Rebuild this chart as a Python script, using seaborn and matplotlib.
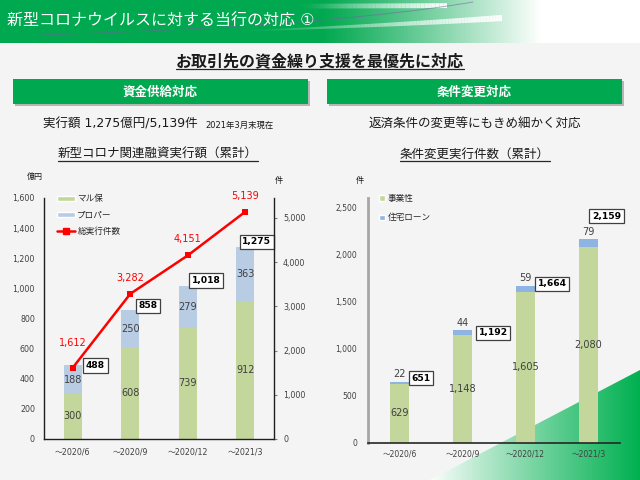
import matplotlib
matplotlib.use("Agg")
import matplotlib.pyplot as plt
from matplotlib.collections import LineCollection
from matplotlib.colors import to_rgb
from matplotlib.lines import Line2D
from matplotlib.patches import Patch, Polygon, Rectangle
from matplotlib.ticker import MultipleLocator, StrMethodFormatter
import numpy as np
import pandas as pd
import seaborn as sns

periods = ["～2020/6", "～2020/9", "～2020/12", "～2021/3"]

# 新型コロナ関連融資実行額（億円）と総実行件数
marukyo = [300, 608, 739, 912]
proper = [188, 250, 279, 363]
loan_total = [488, 858, 1018, 1275]
loan_count = [1612, 3282, 4151, 5139]

# 条件変更実行件数
jigyo = [629, 1148, 1605, 2080]
jutaku = [22, 44, 59, 79]
change_total = [651, 1192, 1664, 2159]

GREEN = "#c3d69b"
BLUE_L = "#b8cce4"
BLUE_R = "#8db4e2"
RED = "#ff0000"
BRAND = "#00a84f"
BG = "#f4f4f4"
TXT = "#404040"
DARK = "#1a1a1a"

BOX = dict(boxstyle="square,pad=0.3", fc="white", ec="#404040", lw=0.9)


def underline(fig, bg, t, gap=0.0):
    fig.canvas.draw()
    bb = t.get_window_extent()
    y = 480 - bb.y0 + gap
    bg.plot([bb.x0, bb.x1], [y, y], color="#262626", lw=0.9, zorder=3)


def bezier(p0, p1, p2, n=80):
    s = np.linspace(0, 1, n)[:, None]
    pts = (1 - s) ** 2 * np.array(p0) + 2 * (1 - s) * s * np.array(p1) + s ** 2 * np.array(p2)
    return pts


def fading_stroke(bg, pts, lw0, lw1, a0, a1, color="white"):
    segs = np.stack([pts[:-1], pts[1:]], axis=1)
    n = len(segs)
    alphas = np.linspace(a0, a1, n)
    rgb = np.array(to_rgb(color))
    cols = np.column_stack([np.tile(rgb, (n, 1)), alphas])
    lc = LineCollection(segs, colors=cols, linewidths=np.linspace(lw0, lw1, n),
                        capstyle="butt", zorder=1)
    bg.add_collection(lc)


def draw_background(fig):
    bg = fig.add_axes([0, 0, 1, 1], zorder=0)
    bg.axis("off")

    # header band, green fading to white
    xs = np.arange(640)
    t = np.clip((xs - 320) / 220, 0, 1) ** 1.1
    g = np.array(to_rgb("#00a84f"))
    row = g[None, :] * (1 - t[:, None]) + np.ones(3)[None, :] * t[:, None]
    img = np.repeat(row[None, :, :], 43, axis=0)
    bg.imshow(img, extent=(0, 640, 43, 0), aspect="auto", zorder=0)
    fading_stroke(bg, bezier((240, 31), (380, 26), (502, 18)), 0.5, 4.5, 0.0, 0.95)
    fading_stroke(bg, np.array([[300, 6.5], [447, 5.5]]).repeat(1, axis=0), 3.5, 3.5, 0.0, 0.9)
    fading_stroke(bg, np.linspace([300, 6.2], [447, 5.6], 40), 3.5, 3.5, 0.0, 0.95)
    x = bezier((40, 35), (330, 26), (473, 2))
    bg.plot(x[:, 0], x[:, 1], color="#7b5ea7", lw=0.7, alpha=0.55, zorder=1)

    # green corner triangle
    tri = Polygon([(430, 480), (640, 370), (640, 480)], closed=True,
                  fc="none", ec="none")
    bg.add_patch(tri)
    tt = np.linspace(0, 1, 256) ** 0.9
    c0 = np.array(to_rgb("#ffffff"))
    c1 = np.array(to_rgb("#00b050"))
    grad = c0[None, :] * (1 - tt[:, None]) + c1[None, :] * tt[:, None]
    im = bg.imshow(grad[None, :, :], extent=(430, 640, 480, 370),
                   aspect="auto", zorder=0.5)
    im.set_clip_path(tri)

    # section boxes
    for x0, label in [(13, "資金供給対応"), (327, "条件変更対応")]:
        bg.add_patch(Rectangle((x0 + 2, 81), 295, 25, fc="#b5b5b5", ec="none", zorder=1))
        bg.add_patch(Rectangle((x0, 79), 295, 25, fc=BRAND, ec="none", zorder=2))
        bg.text(x0 + 147, 92, label, color="white", fontsize=9, fontweight="bold",
                ha="center", va="center", zorder=3)

    bg.set_xlim(0, 640)
    bg.set_ylim(480, 0)
    return bg


def main():
    sns.set_theme(style="white")
    plt.rcParams["font.family"] = ["DejaVu Sans", "Noto Sans CJK JP"]

    fig = plt.figure(figsize=(6.4, 4.8), dpi=100, facecolor=BG)
    bg = draw_background(fig)

    bg.text(7, 21, "新型コロナウイルスに対する当行の対応 ①", color="white",
            fontsize=11.5, ha="left", va="center", zorder=3)
    sub = bg.text(320, 61, "お取引先の資金繰り支援を最優先に対応", color=DARK,
                  fontsize=11.5, fontweight="bold", ha="center", va="center")
    amount = bg.text(43, 124, "実行額 1,275億円/5,139件", color=DARK,
                     fontsize=9, ha="left", va="center")
    bg.text(475, 124, "返済条件の変更等にもきめ細かく対応", color=DARK,
            fontsize=9, ha="center", va="center")
    t1 = bg.text(158, 154, "新型コロナ関連融資実行額（累計）", color=DARK,
                 fontsize=9, ha="center", va="center")
    t2 = bg.text(475, 154, "条件変更実行件数（累計）", color=DARK,
                 fontsize=9, ha="center", va="center")
    bg.text(35, 176, "億円", fontsize=5.8, color=DARK, ha="center", va="center")
    bg.text(279, 180, "件", fontsize=5.8, color=DARK, ha="center", va="center")
    bg.text(360, 181, "件", fontsize=5.8, color=DARK, ha="center", va="center")

    # ---- left: loan amounts ----
    df_loan = pd.DataFrame({"period": periods, "marukyo": marukyo,
                            "proper": proper, "total": loan_total,
                            "count": loan_count})
    ax1 = fig.add_axes([44 / 640, 41 / 480, 230 / 640, 241 / 480], zorder=2)
    ax1.patch.set_visible(False)
    sns.barplot(data=df_loan, x="period", y="total", color=BLUE_L, saturation=1,
                width=0.31, errorbar=None, linewidth=0, ax=ax1)
    sns.barplot(data=df_loan, x="period", y="marukyo", color=GREEN, saturation=1,
                width=0.31, errorbar=None, linewidth=0, ax=ax1)
    for i, (g, b) in enumerate(zip(marukyo, proper)):
        ax1.text(i, g / 2, f"{g:,}", ha="center", va="center", fontsize=7, color=TXT)
        ax1.text(i, g + b / 2, f"{b:,}", ha="center", va="center", fontsize=7, color=TXT)
    for i, (v, dx, dy) in enumerate(zip(loan_total, [13, 8, 4, -3], [0, 4, 5, 5])):
        ax1.annotate(f"{v:,}", (i, v), xytext=(dx, dy), textcoords="offset pixels",
                     ha="left", va="center", fontsize=6.6, fontweight="bold",
                     color="black", bbox=BOX, zorder=5)
    ax1.set_xlim(-0.5, 3.5)
    ax1.set_ylim(0, 1600)
    ax1.yaxis.set_major_locator(MultipleLocator(200))
    ax1.yaxis.set_major_formatter(StrMethodFormatter("{x:,.0f}"))
    ax1.set_xlabel("")
    ax1.set_ylabel("")
    ax1.tick_params(axis="both", length=0, labelsize=5.7, colors=TXT)
    ax1.tick_params(axis="y", pad=6.5)
    ax1.tick_params(axis="x", pad=6)
    for s in ["top", "right"]:
        ax1.spines[s].set_visible(False)
    for s in ["left", "bottom"]:
        ax1.spines[s].set_color("#1f1f1f")
        ax1.spines[s].set_linewidth(1)

    ax2 = ax1.twinx()
    ax2.set_zorder(3)
    ax2.patch.set_visible(False)
    sns.lineplot(x=np.arange(len(periods)), y=loan_count, ax=ax2, color=RED,
                 marker="s", markersize=5, markeredgewidth=0, linewidth=1.8)
    for i, (v, dy) in enumerate(zip(loan_count, [25, 16, 16, 16])):
        ax2.annotate(f"{v:,}", (i, v), xytext=(0, dy), textcoords="offset pixels",
                     ha="center", va="center", fontsize=7, color=RED)
    ax2.set_ylim(0, 5450)
    ax2.yaxis.set_major_locator(MultipleLocator(1000))
    ax2.yaxis.set_major_formatter(StrMethodFormatter("{x:,.0f}"))
    ax2.set_ylabel("")
    ax2.tick_params(axis="y", right=True, length=2.5, width=0.8, color="#808080",
                    pad=4, labelsize=5.7, labelcolor=TXT)
    for s in ["top", "left", "bottom"]:
        ax2.spines[s].set_visible(False)
    ax2.spines["right"].set_color("#1f1f1f")
    ax2.spines["right"].set_linewidth(1)
    handles = [Patch(fc=GREEN), Patch(fc=BLUE_L),
               Line2D([0], [0], color=RED, marker="s", markersize=4, lw=1.8)]
    ax2.legend(handles, ["マル保", "プロパー", "総実行件数"], loc="upper left",
               bbox_to_anchor=(0.055, 1.015), frameon=False, fontsize=6.2,
               handlelength=2.1, handleheight=0.6, labelspacing=0.85,
               handletextpad=0.3, borderpad=0, borderaxespad=0)

    # ---- right: condition changes ----
    df_change = pd.DataFrame({"period": periods, "jigyo": jigyo,
                              "jutaku": jutaku, "total": change_total})
    ax3 = fig.add_axes([368 / 640, 37 / 480, 252 / 640, 245.4 / 480], zorder=2)
    ax3.patch.set_visible(False)
    sns.barplot(data=df_change, x="period", y="total", color=BLUE_R, saturation=1,
                width=0.3, errorbar=None, linewidth=0, ax=ax3)
    sns.barplot(data=df_change, x="period", y="jigyo", color=GREEN, saturation=1,
                width=0.3, errorbar=None, linewidth=0, ax=ax3)
    for i, (g, h) in enumerate(zip(jigyo, jutaku)):
        ax3.text(i, g / 2, f"{g:,}", ha="center", va="center", fontsize=7, color=TXT)
        ax3.annotate(f"{h:,}", (i, g + h), xytext=(0, 7.5), textcoords="offset pixels",
                     ha="center", va="center", fontsize=7, color=TXT)
    for i, (v, dx, dy) in enumerate(zip(change_total, [12, 16, 12, 3.5], [3.5, -2.5, 2, 23])):
        ax3.annotate(f"{v:,}", (i, v), xytext=(dx, dy), textcoords="offset pixels",
                     ha="left", va="center", fontsize=6.6, fontweight="bold",
                     color="black", bbox=BOX, zorder=5)
    ax3.set_xlim(-0.5, 3.5)
    ax3.set_ylim(0, 2600)
    ax3.yaxis.set_major_locator(MultipleLocator(500))
    ax3.yaxis.set_major_formatter(StrMethodFormatter("{x:,.0f}"))
    ax3.set_xlabel("")
    ax3.set_ylabel("")
    ax3.tick_params(axis="both", length=0, labelsize=5.5, colors=TXT)
    ax3.tick_params(axis="y", pad=8)
    ax3.tick_params(axis="x", pad=5)
    for s in ["top", "right"]:
        ax3.spines[s].set_visible(False)
    ax3.spines["left"].set_color("#a6a6a6")
    ax3.spines["left"].set_linewidth(2)
    ax3.spines["bottom"].set_color("#262626")
    ax3.spines["bottom"].set_linewidth(1.2)
    ax3.legend([Patch(fc=GREEN), Patch(fc=BLUE_R)], ["事業性", "住宅ローン"],
               loc="upper left", bbox_to_anchor=(0.045, 1.016), frameon=False,
               fontsize=6.2, handlelength=0.65, handleheight=0.65, labelspacing=1.25,
               handletextpad=0.3, borderpad=0, borderaxespad=0)

    # small note and underlines need text extents
    fig.canvas.draw()
    bb = amount.get_window_extent()
    bg.text(bb.x1 + 8, 125, "2021年3月末現在", fontsize=6, color=DARK,
            ha="left", va="center")
    for t in (sub, t1, t2):
        underline(fig, bg, t)

    fig.savefig("out.png", dpi=100, facecolor=BG)
    plt.close(fig)


if __name__ == "__main__":
    main()
